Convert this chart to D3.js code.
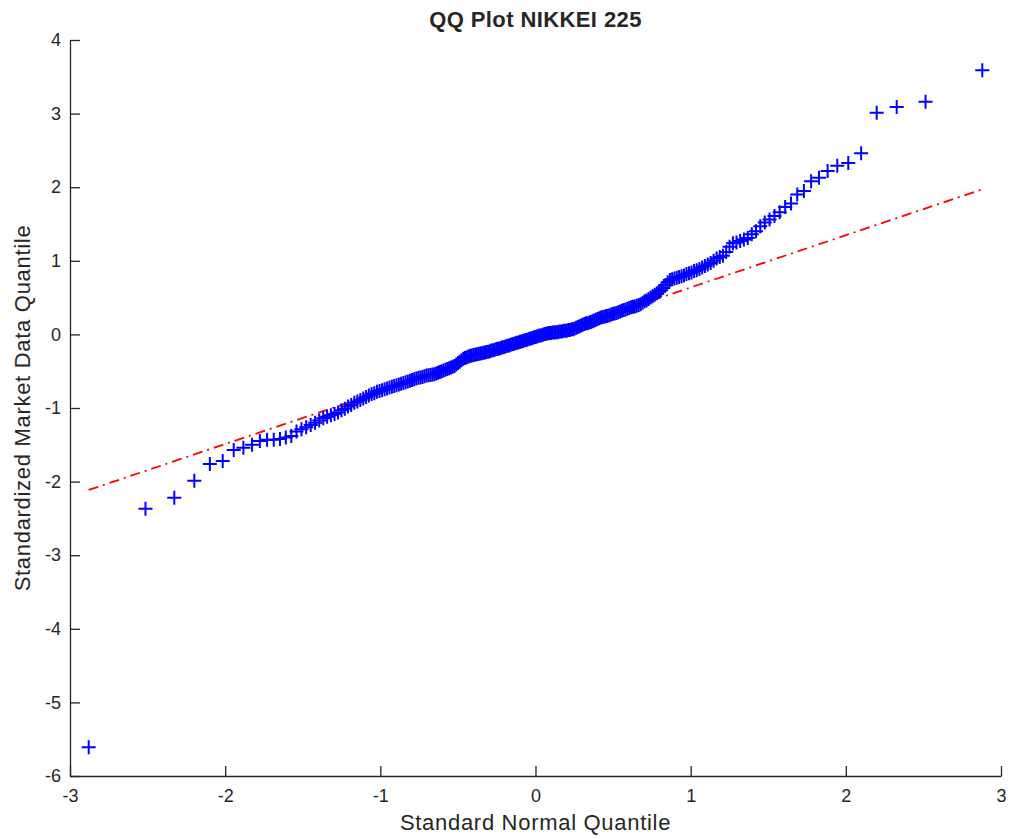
<!DOCTYPE html>
<html>
<head>
<meta charset="utf-8">
<script src="https://cdn.jsdelivr.net/npm/d3@7"></script>
<style>
body { margin: 0; background: #fff; }
text { font-family: "Liberation Sans", Arial, Helvetica, sans-serif; fill: #262626; }
</style>
</head>
<body>
<svg id="chart" width="1010" height="839"></svg>
<script>
var titleText = "QQ Plot NIKKEI 225";
var xLabel = "Standard Normal Quantile";
var yLabel = "Standardized Market Data Quantile";
var xTicks = [-3, -2, -1, 0, 1, 2, 3];
var yTicks = [-6, -5, -4, -3, -2, -1, 0, 1, 2, 3, 4];

// sorted standardized returns (251 points)
var sortedReturns = [
    -5.61, -2.37, -2.22, -1.99, -1.76, -1.72, -1.57, -1.54, -1.50, -1.45,
    -1.43, -1.43, -1.42, -1.40, -1.38, -1.32, -1.29, -1.26, -1.23, -1.20,
    -1.17, -1.14, -1.12, -1.10, -1.08, -1.06, -1.03,
    -1.01, -0.98, -0.96, -0.93,
    -0.91, -0.89, -0.87, -0.85, -0.83,
    -0.81, -0.80, -0.78, -0.77, -0.76,
    -0.745, -0.735, -0.72, -0.71, -0.70,
    -0.69, -0.68, -0.67, -0.66, -0.65,
    -0.64, -0.63, -0.62, -0.61, -0.60,
    -0.59, -0.585, -0.58, -0.57, -0.56,
    -0.555, -0.55, -0.545, -0.54, -0.53,
    -0.52, -0.51, -0.50, -0.49, -0.48,
    -0.47, -0.46, -0.45, -0.44, -0.43,
    -0.41, -0.39, -0.37, -0.35, -0.33,
    -0.32, -0.31, -0.30, -0.29, -0.285,
    -0.28, -0.275, -0.27, -0.265, -0.26,
    -0.255, -0.25, -0.245, -0.24, -0.235,
    -0.23, -0.22, -0.215, -0.21, -0.20,
    -0.195, -0.19, -0.18, -0.175, -0.17,
    -0.16, -0.155, -0.15, -0.14, -0.135,
    -0.13, -0.12, -0.115, -0.11, -0.10,
    -0.095, -0.09, -0.08, -0.075, -0.07,
    -0.06, -0.055, -0.05, -0.04, -0.035,
    -0.03, -0.02, -0.015, -0.01, 0.00,
    0.005, 0.01, 0.015, 0.02, 0.02,
    0.025, 0.025, 0.03, 0.03, 0.035,
    0.04, 0.04, 0.05, 0.05, 0.05,
    0.06, 0.06, 0.07, 0.07, 0.08,
    0.09, 0.10, 0.11, 0.12, 0.13,
    0.14, 0.15, 0.15, 0.16, 0.17,
    0.18, 0.19, 0.20, 0.21, 0.22,
    0.23, 0.235, 0.24, 0.25, 0.255,
    0.26, 0.27, 0.28, 0.285, 0.29,
    0.30, 0.31, 0.32, 0.33, 0.34,
    0.35, 0.36, 0.37, 0.375, 0.38,
    0.39, 0.40, 0.41, 0.43, 0.45,
    0.46, 0.48, 0.50, 0.52, 0.54,
    0.56, 0.58, 0.60, 0.63, 0.67,
    0.71, 0.74, 0.75, 0.76, 0.77,
    0.78, 0.79, 0.80, 0.82, 0.83,
    0.84, 0.86, 0.87, 0.89, 0.91,
    0.93, 0.95, 0.97, 1.00, 1.03,
    1.05, 1.07, 1.12, 1.19, 1.24,
    1.25, 1.27, 1.29, 1.31, 1.36,
    1.40, 1.47, 1.52, 1.56, 1.61,
    1.66, 1.73, 1.78, 1.90, 1.95,
    2.08, 2.13, 2.22, 2.29, 2.33,
    2.46, 3.01, 3.09, 3.16, 3.59
];

// inverse of the standard normal cdf (Acklam)
function normInv(p) {
    var a = [-39.69683028665376, 220.9460984245205, -275.9285104469687, 138.3577518672690, -30.66479806614716, 2.506628277459239];
    var b = [-54.47609879822406, 161.5858368580409, -155.6989798598866, 66.80131188771972, -13.28068155288572];
    var c = [-0.007784894002430293, -0.3223964580411365, -2.400758277161838, -2.549732539343734, 4.374664141464968, 2.938163982698783];
    var d = [0.007784695709041462, 0.3224671290700398, 2.445134137142996, 3.754408661907416];
    var plow = 0.02425, q, r;
    if (p < plow) {
        q = Math.sqrt(-2 * Math.log(p));
        return (((((c[0]*q+c[1])*q+c[2])*q+c[3])*q+c[4])*q+c[5]) / ((((d[0]*q+d[1])*q+d[2])*q+d[3])*q+1);
    } else if (p <= 1 - plow) {
        q = p - 0.5;
        r = q * q;
        return (((((a[0]*r+a[1])*r+a[2])*r+a[3])*r+a[4])*r+a[5])*q / (((((b[0]*r+b[1])*r+b[2])*r+b[3])*r+b[4])*r+1);
    }
    q = Math.sqrt(-2 * Math.log(1 - p));
    return -(((((c[0]*q+c[1])*q+c[2])*q+c[3])*q+c[4])*q+c[5]) / ((((d[0]*q+d[1])*q+d[2])*q+d[3])*q+1);
}

var n = sortedReturns.length;
var points = sortedReturns.map(function(v, i) {
    return { x: normInv((i + 0.5) / n), y: v };
});
var xs = points.map(function(p) { return p.x; });

var svg = d3.select('#chart');
var plotLeft = 70, plotRight = 1001, plotTop = 40, plotBottom = 776;

var x = d3.scaleLinear().domain([-3, 3]).range([plotLeft, plotRight]);
var y = d3.scaleLinear().domain([-6, 4]).range([plotBottom, plotTop]);

// reference line through the quartiles, like matlab's qqplot
var q1x = d3.quantile(xs, 0.25), q3x = d3.quantile(xs, 0.75);
var q1y = d3.quantile(sortedReturns, 0.25), q3y = d3.quantile(sortedReturns, 0.75);
var slope = (q3y - q1y) / (q3x - q1x);
function fit(v) { return q1y + slope * (v - q1x); }
var xmin = d3.min(xs), xmax = d3.max(xs);

svg.append('line')
    .attr('x1', x(xmin)).attr('y1', y(fit(xmin)))
    .attr('x2', x(xmax)).attr('y2', y(fit(xmax)))
    .attr('stroke', '#ff0000')
    .attr('stroke-width', 1.8)
    .attr('stroke-dasharray', '10,5,2,5');

svg.append('line')
    .attr('x1', x(q1x)).attr('y1', y(q1y))
    .attr('x2', x(q3x)).attr('y2', y(q3y))
    .attr('stroke', '#ff0000')
    .attr('stroke-width', 1.8);

// plus markers
svg.append('g').selectAll('path').data(points).enter().append('path')
    .attr('transform', function(d) { return 'translate(' + x(d.x) + ',' + y(d.y) + ')'; })
    .attr('d', 'M-7,0H7M0,-7V7')
    .attr('stroke', '#0000ff')
    .attr('stroke-width', 2)
    .attr('fill', 'none');

// axes, ticks pointing inward
var xAxis = d3.axisBottom(x).tickValues(xTicks).tickSizeInner(-10).tickSizeOuter(0)
    .tickPadding(13).tickFormat(String);
var yAxis = d3.axisLeft(y).tickValues(yTicks).tickSizeInner(-10).tickSizeOuter(0)
    .tickPadding(9).tickFormat(String);

var gx = svg.append('g').attr('transform', 'translate(0,' + plotBottom + ')').call(xAxis);
var gy = svg.append('g').attr('transform', 'translate(' + plotLeft + ',0)').call(yAxis);

[gx, gy].forEach(function(g) {
    g.selectAll('path, line').attr('stroke', '#262626').attr('stroke-width', 1.3);
    g.selectAll('text').attr('font-size', 18).attr('fill', '#333')
        .style('font-family', '"Liberation Sans", Arial, sans-serif');
});

svg.append('text')
    .attr('x', (plotLeft + plotRight) / 2)
    .attr('y', 27)
    .attr('text-anchor', 'middle')
    .attr('font-size', 22)
    .attr('font-weight', 'bold')
    .attr('letter-spacing', 0.4)
    .attr('fill', '#000')
    .text(titleText);

svg.append('text')
    .attr('x', (plotLeft + plotRight) / 2)
    .attr('y', 830)
    .attr('text-anchor', 'middle')
    .attr('font-size', 22)
    .attr('letter-spacing', 0.7)
    .attr('fill', '#333')
    .text(xLabel);

svg.append('text')
    .attr('transform', 'translate(30,' + (plotTop + plotBottom) / 2 + ') rotate(-90)')
    .attr('text-anchor', 'middle')
    .attr('font-size', 22)
    .attr('letter-spacing', 0.7)
    .attr('fill', '#333')
    .text(yLabel);
</script>
</body>
</html>
